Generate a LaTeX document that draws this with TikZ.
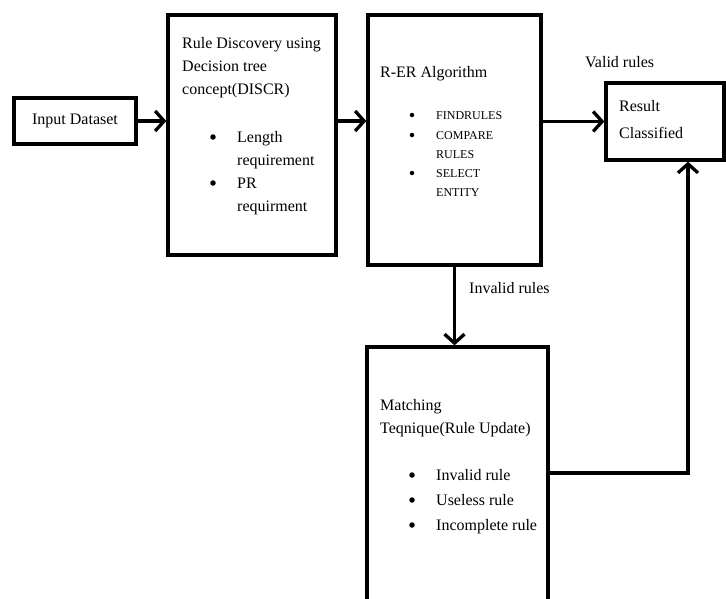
\documentclass[tikz,border=0pt]{standalone}
\usepackage{fontspec}
\setmainfont{Liberation Serif}
\usetikzlibrary{arrows.meta,positioning,calc}

\begin{document}
\begin{tikzpicture}[x=1pt,y=-1pt,
  box/.style={draw,line width=3.3pt,inner sep=0pt},
  arr/.style={-{Straight Barb[length=9pt,width=20pt]},line width=3.3pt},
  dot/.style={circle,fill,inner sep=0pt,minimum size=5.5pt},
  smalldot/.style={dot,minimum size=4.5pt},
  txt/.style={font=\fontsize{16}{23}\selectfont,align=left,inner sep=0pt,anchor=base west},
  small/.style={font=\fontsize{12}{19}\selectfont,align=left,inner sep=0pt,anchor=base west}]
  \useasboundingbox (0,0) rectangle (726,598);
  \clip (0,0) rectangle (726,598);

  %% Boxes
  \node[box,minimum width=122pt,minimum height=46pt,
        font=\fontsize{16}{23}\selectfont] (input) at (75,121) {Input Dataset};
  \node[box,minimum width=168pt,minimum height=240pt] (discr) at (252,135) {};
  \node[box,minimum width=173pt,minimum height=250pt] (rer) at (454.5,140) {};
  \node[box,minimum width=118pt,minimum height=77pt] (result) at (665,121.5) {};
  \node[box,minimum width=181pt,minimum height=273pt] (match) at (457.5,483.5) {};

  %% Rule discovery box (base = last line)
  \node[txt] (discrhead) at (182,94) {Rule Discovery using\\Decision tree\\concept(DISCR)};
  \foreach \y/\item in {142/{Length\\requirement},188/{PR\\requirment}} {
    \node[dot] at (213,\y-5) {};
    \node[txt] at (237,\y+23) {\item};
  }

  %% R-ER box
  \node[txt] (rerhead) at (380,77) {R-ER Algorithm};
  \node[smalldot] at (412,115) {};
  \node[small] at (436,119) {FINDRULES};
  \node[smalldot] at (412,135) {};
  \node[small] at (436,158) {COMPARE\\RULES};
  \node[smalldot] at (412,173) {};
  \node[small] at (436,196) {SELECT\\ENTITY};

  %% Result box
  \node[txt,font=\fontsize{16}{27}\selectfont] (resulttxt) at (619,138) {Result\\Classified};

  %% Matching box
  \node[txt] (matchhead) at (380,433) {Matching\\Teqnique(Rule Update)};
  \foreach \y/\item in {480/{Invalid rule},505/{Useless rule},530/{Incomplete rule}} {
    \node[dot] at (412,\y-5) {};
    \node[txt] at (436,\y) {\item};
  }

  %% Connectors
  \draw[arr] (input.east) -- (input.east -| discr.west);
  \draw[arr] (discr.east |- input) -- (rer.west |- input);
  \draw[arr] (rer.east |- result) -- (result.west);
  \draw[arr] (rer.south) -- (rer.south |- match.north);
  \coordinate (turn) at (688,473);
  \draw[arr] (match.east |- turn) -| (result.south -| turn);

  %% Connector labels
  \node[txt] (valid) at (585,67) {Valid rules};
  \node[txt] (invalid) at (469,293) {Invalid rules};
\end{tikzpicture}
\end{document}
